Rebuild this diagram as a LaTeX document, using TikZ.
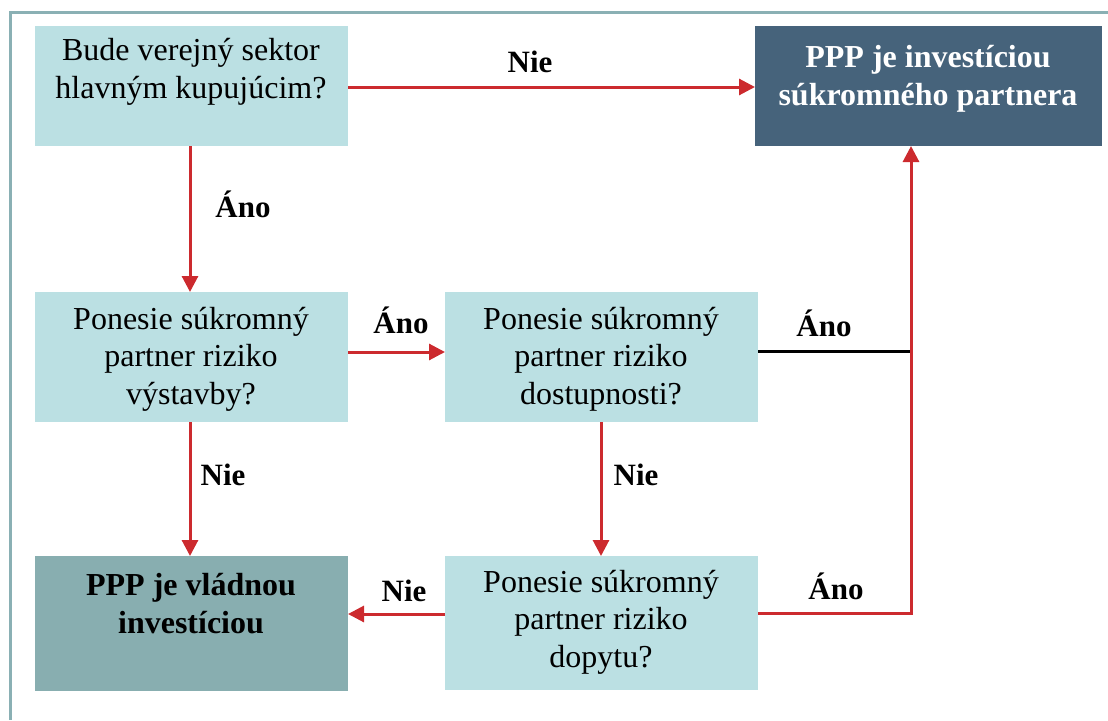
\documentclass[tikz,border=0pt]{standalone}
\usepackage{fontspec}
\setmainfont{Liberation Serif}
\usetikzlibrary{arrows.meta}
\definecolor{boxlight}{HTML}{BBE0E3}
\definecolor{boxdark}{HTML}{46637B}
\definecolor{boxteal}{HTML}{88AEB0}
\definecolor{frameline}{HTML}{8AB0B4}
\definecolor{flowred}{HTML}{CC2A2E}
\tikzset{
  box/.style={draw=none, inner sep=0pt, outer sep=0pt, minimum width=313pt, anchor=north west},
  qbox/.style={box, fill=boxlight},
  btext/.style={align=center, font=\fontsize{32}{37.5}\selectfont, inner sep=0pt},
  lbl/.style={font=\fontsize{31}{34}\selectfont\bfseries, inner sep=0pt},
  flow/.style={draw=flowred, line width=3pt, -{Triangle[length=16pt,width=16pt]}},
}
\begin{document}
\begin{tikzpicture}[x=1pt,y=-1pt]
\useasboundingbox (0,0) rectangle (1108,720);
% outer frame (top and left edges)
\draw[frameline, line width=3pt] (10,720) -- (10,12) -- (1108,12);

% boxes
\node[qbox, minimum height=120pt] (q1) at (35,26) {};
\node[box, fill=boxdark, minimum width=347pt, minimum height=120pt] (priv) at (755,26) {};
\node[qbox, minimum height=130pt] (q2) at (35,292) {};
\node[qbox, minimum height=130pt] (q3) at (445,292) {};
\node[box, fill=boxteal, minimum height=135pt] (gov) at (35,556) {};
\node[qbox, minimum height=134pt] (q4) at (445,556) {};

% box texts
\node[btext, font=\fontsize{32}{38}\selectfont] (q1t) at (191,72) {Bude verejný sektor\\hlavným kupujúcim?};
\node[btext, text=white, font=\fontsize{32}{38}\selectfont\bfseries] (privt) at (928,79) {PPP je investíciou\\súkromného partnera};
\node[btext] (q2t) at (191,359) {Ponesie súkromný\\partner riziko\\výstavby?};
\node[btext] (q3t) at (601,359) {Ponesie súkromný\\partner riziko\\dostupnosti?};
\node[btext, font=\fontsize{32}{38}\selectfont\bfseries] (govt) at (191,604) {PPP je vládnou\\investíciou};
\node[btext] (q4t) at (601,622) {Ponesie súkromný\\partner riziko\\dopytu?};

% junction points on the right-hand riser
\coordinate (j3) at (911,351);
\coordinate (j4) at (911,613);

% connectors
\draw[flow] (q1.east |- 0,87) -- (priv.west |- 0,87);
\draw[flow] (q1.south -| 190,0) -- (q2.north -| 190,0);
\draw[flow] (q2.east |- 0,352) -- (q3.west |- 0,352);
\draw[line width=3pt] (q3.east |- j3) -- (j3);
\draw[flow] (q2.south -| 190,0) -- (gov.north -| 190,0);
\draw[flow] (q3.south -| 601,0) -- (q4.north -| 601,0);
\draw[flow] (q4.west |- 0,614) -- (gov.east |- 0,614);
\draw[flow] (q4.east |- j4) -- (j4) -- (priv.south -| j4);

% connector labels
\node[lbl] (l1) at (530,62) {Nie};
\node[lbl] (l2) at (243,204) {Áno};
\node[lbl] (l3) at (401,320) {Áno};
\node[lbl] (l4) at (824,323) {Áno};
\node[lbl] (l5) at (223,475) {Nie};
\node[lbl] (l6) at (636,475) {Nie};
\node[lbl] (l7) at (404,591) {Nie};
\node[lbl] (l8) at (836,586) {Áno};
\end{tikzpicture}
\end{document}
